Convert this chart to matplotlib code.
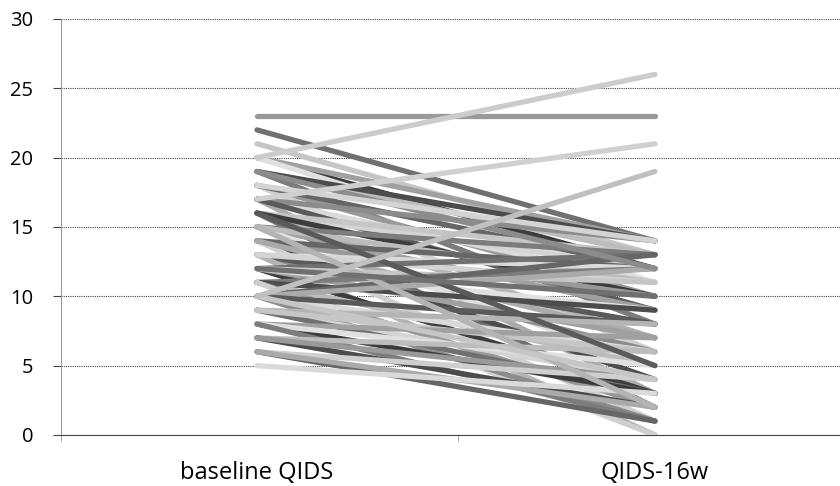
import numpy as np
import matplotlib.pyplot as plt

categories = ['baseline QIDS', 'QIDS-16w']

# baseline and 16-week QIDS score per subject
baseline = [23, 20, 17, 10, 22, 21, 20, 20, 20, 19, 19, 19, 18, 18, 18,
            17, 17, 17, 17, 16, 16, 16, 16, 16, 15, 15, 15, 15, 14, 14,
            14, 14, 14, 13, 13, 13, 13, 13, 12, 12, 12, 12, 12, 11, 11,
            11, 11, 11, 10, 10, 10, 10, 10, 9, 9, 9, 9, 8, 8, 8,
            8, 7, 7, 7, 6, 6, 6, 5, 19, 16, 15, 18, 12, 10]
week16 = [23, 26, 21, 19, 14, 13, 12, 14, 11, 8, 13, 14, 10, 6, 12,
          3, 11, 14, 9, 7, 12, 2, 13, 10, 9, 5, 13, 11, 4, 10,
          1, 12, 7, 12, 6, 8, 0, 11, 13, 11, 3, 7, 9, 12, 5,
          9, 2, 0, 13, 12, 6, 1, 8, 8, 4, 3, 6, 3, 7, 5,
          1, 6, 2, 4, 4, 1, 2, 3, 12, 5, 2, 14, 10, 4]

y_ticks = [0, 5, 10, 15, 20, 25, 30]

grays = ['#8c8c8c', '#5a5a5a', '#b4b4b4', '#d4d4d4', '#707070', '#c6c6c6',
         '#3c3c3c', '#a0a0a0', '#e0e0e0', '#7c7c7c', '#bcbcbc', '#4c4c4c',
         '#999999', '#cfcfcf', '#666666', '#aaaaaa', '#dadada']
special = ['#9a9a9a', '#cccccc', '#d0d0d0', '#c0c0c0']

plt.rcParams['font.family'] = ['Open Sans', 'DejaVu Sans']

fig = plt.figure(figsize=(8.4, 4.86), dpi=100)
ax = fig.add_axes([0.0726, 0.105, 0.9274, 0.856])

x = np.arange(len(categories))
# the four odd lines go last so they sit on top like the original
order = list(range(4, len(baseline))) + [0, 1, 2, 3]
for i in order:
    c = special[i] if i < 4 else grays[i % len(grays)]
    ax.plot(x, [baseline[i], week16[i]], color=c, linewidth=3.8,
            solid_capstyle='round', zorder=3)

ax.set_ylim(0, 30)
ax.set_xlim(-0.4925, 1.465)
ax.set_yticks(y_ticks)
ax.set_yticklabels([str(v) for v in y_ticks], fontsize=14.5)
ax.yaxis.grid(True, linestyle=(0, (1, 1)), color='#444444', linewidth=0.8)
ax.set_axisbelow(True)

ax.set_xticks([0, 1])
ax.set_xticklabels(categories, fontsize=17)
ax.tick_params(axis='x', length=0, pad=19)
ax.tick_params(axis='y', length=6, color='#444444', width=0.8, pad=14)
ax.set_xticks([-0.4925, 0.505, 1.465], minor=True)
ax.tick_params(axis='x', which='minor', length=4, color='#999999')

for s in ['top', 'right']:
    ax.spines[s].set_visible(False)
ax.spines['left'].set_linestyle((0, (1, 1)))
ax.spines['left'].set_color('#999999')
ax.spines['bottom'].set_linestyle((0, (1, 1)))
ax.spines['bottom'].set_color('#444444')

fig.savefig('out.png', dpi=100)
